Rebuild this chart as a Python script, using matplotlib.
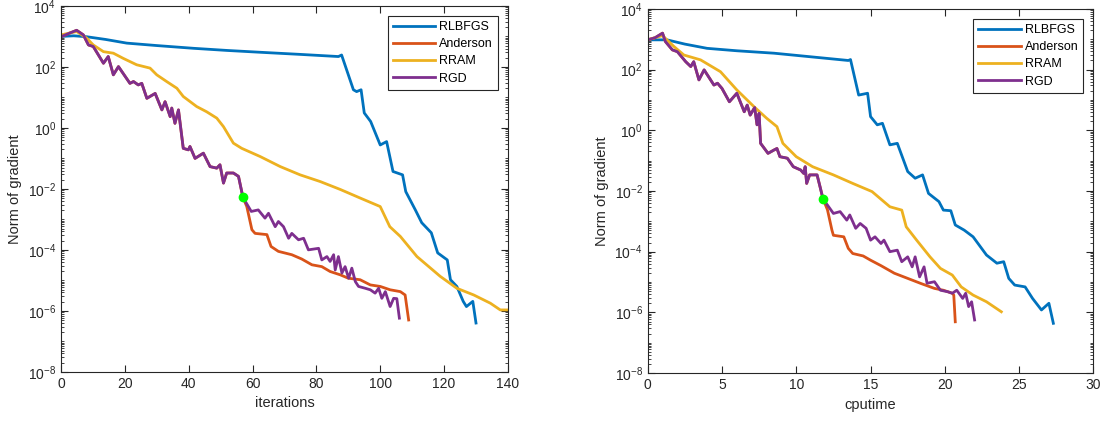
import numpy as np
import matplotlib.pyplot as plt
from matplotlib.ticker import LogLocator, NullFormatter

plt.rcParams['font.family'] = ['Liberation Sans', 'DejaVu Sans']
plt.rcParams['mathtext.default'] = 'regular'

# MATLAB default colours
c_lbfgs = (0.0, 0.447, 0.741)
c_and = (0.85, 0.325, 0.098)
c_rram = (0.929, 0.694, 0.125)
c_rgd = (0.494, 0.184, 0.556)
axc = '#262626'

# ---------- left panel: vs iterations (values are log10 of the gradient norm) ----------
it_lbfgs = [0, 4, 8, 14, 20.6, 30, 41.5, 52, 62.4, 75, 86.9, 87.9, 91.6, 92.6, 94, 95, 97, 100, 102,
            104, 107, 108, 111, 113, 116, 118, 121, 122, 124, 126, 127, 129, 130]
lg_lbfgs = [3.0, 3.02, 2.99, 2.9, 2.78, 2.7, 2.61, 2.54, 2.48, 2.41, 2.34, 2.39, 1.25, 1.19, 1.25,
            0.49, 0.21, -0.56, -0.45, -1.43, -1.54, -2.09, -2.69, -3.11, -3.44, -4.1, -4.33,
            -4.98, -5.2, -5.69, -5.86, -5.69, -6.4]

it_rram = [0, 4.9, 8.1, 10.1, 13.3, 16.4, 19.5, 23.7, 27.9, 30, 33.1, 36.3, 38.3, 42.5, 45.6, 48.8,
           50.9, 54, 56.6, 62.4, 68.7, 74.9, 81.2, 87.5, 93.7, 100, 103, 106.3, 111.5, 118.8, 124,
           129.3, 134.5, 137.6, 140]
lg_rram = [3.05, 3.16, 2.94, 2.72, 2.5, 2.45, 2.28, 2.07, 1.96, 1.74, 1.52, 1.3, 1.03, 0.70, 0.53,
           0.32, 0.04, -0.5, -0.67, -0.94, -1.27, -1.54, -1.76, -2.02, -2.3, -2.58, -3.24, -3.56,
           -4.22, -4.87, -5.26, -5.48, -5.75, -5.97, -5.97]

# shared part of RGD / Anderson up to the switch point
it_head = [0, 2.5, 4.9, 7, 8.6, 10.1, 13.3, 14.8, 16.4, 18, 21.6, 22.7, 24.2, 25.3, 26.9, 29.5,
           31.6, 32.6, 34.2, 34.7, 35.7, 36.8, 38.3, 39.9, 40.4, 42, 44.6, 46.7, 48.8, 49.8, 50.9,
           51.9, 54, 55.6, 57]
lg_head = [2.99, 3.1, 3.2, 3.05, 2.72, 2.67, 2.12, 2.34, 1.74, 2.01, 1.46, 1.52, 1.41, 1.46, 0.97,
           1.13, 0.59, 0.86, 0.37, 0.65, 0.15, 0.59, -0.67, -0.72, -0.61, -1.0, -0.83, -1.27, -1.32,
           -1.21, -1.81, -1.48, -1.48, -1.59, -2.28]

it_rgd = [59.6, 61.8, 63.9, 65, 67.1, 68.1, 69.7, 71.3, 72.3, 74.4, 76, 77.5, 80.7, 81.7, 83.3, 84.3,
          85.4, 85.9, 86.9, 88, 89, 90.1, 91.1, 92.2, 93.2, 95.3, 96.9, 98.4, 99.5, 100.5, 101.6,
          103.1, 104.2, 105.2, 106]
lg_rgd = [-2.74, -2.69, -2.96, -2.8, -3.24, -3.07, -3.24, -3.62, -3.46, -3.67, -3.62, -4.0, -3.95,
          -4.33, -4.22, -4.38, -4.16, -4.66, -4.22, -4.76, -4.55, -4.93, -4.6, -5.04, -5.2, -5.26,
          -5.31, -5.42, -5.26, -5.59, -5.37, -5.86, -5.59, -5.6, -6.24]

it_and = [58.2, 59.8, 60.8, 64.5, 65.8, 68.1, 72.3, 75.4, 78.6, 81.7, 84.3, 87.5, 90, 93.7, 96.9,
          100, 103.1, 106.3, 107.8, 108.9]
lg_and = [-2.58, -3.34, -3.46, -3.5, -3.89, -4.05, -4.16, -4.3, -4.49, -4.55, -4.71, -4.82, -4.93,
          -4.98, -5.15, -5.2, -5.31, -5.37, -5.48, -6.3]

# ---------- right panel: vs cputime ----------
t_lbfgs = [0, 1.3, 2.5, 4.0, 6.0, 8.5, 11.0, 13.5, 13.65, 14.2, 14.8, 15.0, 15.45, 15.8, 16.3, 16.8,
           17.5, 18.0, 18.5, 18.9, 19.6, 19.9, 20.4, 20.7, 21.3, 21.9, 22.8, 23.5, 23.96, 24.3, 24.7,
           25.4, 25.9, 26.5, 27.0, 27.3]
lt_lbfgs = [2.98, 2.98, 2.84, 2.70, 2.62, 2.54, 2.42, 2.3, 2.33, 1.16, 1.22, 0.45, 0.18, 0.23, -0.48,
            -0.43, -1.36, -1.58, -1.47, -2.08, -2.35, -2.63, -2.65, -3.12, -3.29, -3.51, -4.11,
            -4.38, -4.33, -4.88, -5.1, -5.16, -5.54, -5.92, -5.70, -6.36]

t_rram = [0, 1.0, 1.77, 2.44, 3.56, 4.9, 6.0, 7.15, 8.0, 8.7, 9.1, 10.0, 11.1, 12.5, 13.8, 15.1,
          16.3, 17.1, 17.4, 18.1, 19.0, 19.7, 20.5, 21.1, 21.9, 22.8, 23.8]
lt_rram = [2.98, 3.12, 2.76, 2.48, 2.32, 1.93, 1.33, 0.78, 0.40, 0.12, -0.43, -0.87, -1.2, -1.47,
           -1.75, -2.02, -2.52, -2.63, -3.18, -3.62, -4.17, -4.55, -4.77, -5.16, -5.43, -5.65, -5.98]

t_head = [0, 0.5, 1.0, 1.2, 1.66, 2.0, 2.56, 2.9, 3.1, 3.45, 3.8, 4.46, 4.7, 5.0, 5.5, 6.0, 6.5,
          6.7, 6.9, 7.2, 7.36, 7.5, 7.6, 8.1, 8.5, 8.7, 8.9, 9.4, 9.8, 10.3, 10.5, 10.6, 10.7, 10.9,
          11.4, 11.6, 11.8]
lt_head = [2.98, 3.05, 3.2, 2.92, 2.65, 2.59, 2.26, 2.1, 2.26, 1.66, 1.99, 1.49, 1.55, 1.38, 0.94,
           1.22, 0.61, 0.83, 0.5, 0.75, 0.18, 0.56, -0.43, -0.76, -0.65, -0.6, -0.87, -0.92, -1.2,
           -1.31, -1.42, -1.2, -1.75, -1.47, -1.47, -1.86, -2.26]

t_rgd = [12.5, 12.95, 13.4, 13.6, 14.0, 14.3, 14.7, 15.0, 15.3, 15.7, 15.9, 16.3, 16.8, 17.1, 17.5,
         17.8, 18.0, 18.3, 18.6, 18.8, 19.3, 19.7, 20.2, 20.5, 20.8, 21.2, 21.4, 21.6, 21.8, 22.0]
lt_rgd = [-2.74, -2.68, -2.96, -2.79, -3.23, -3.07, -3.23, -3.62, -3.51, -3.73, -3.62, -4.0, -3.95,
          -4.33, -4.17, -4.5, -4.17, -4.83, -4.5, -5.04, -4.99, -5.27, -5.32, -5.37, -5.27, -5.54,
          -5.37, -5.81, -5.65, -6.25]

t_and = [12.1, 12.4, 12.5, 13.2, 13.5, 13.8, 14.5, 15.0, 15.7, 16.6, 17.5, 18.4, 19.3, 19.9, 20.5,
         20.6, 20.7]
lt_and = [-2.62, -3.29, -3.46, -3.51, -3.89, -4.06, -4.14, -4.28, -4.46, -4.71, -4.88, -5.05, -5.21,
          -5.27, -5.37, -5.43, -6.31]

fig = plt.figure(figsize=(11.09, 4.23), dpi=100)
ax1 = fig.add_axes([0.055, 0.121, 0.403, 0.865])
ax2 = fig.add_axes([0.584, 0.118, 0.402, 0.861])


def draw(ax, xl, x_lb, y_lb, x_rr, y_rr, x_hd, y_hd, x_gd, y_gd, x_an, y_an, xmax, xtk):
    p = lambda v: 10.0 ** np.asarray(v)
    ax.plot(x_lb, p(y_lb), color=c_lbfgs, lw=2, label='RLBFGS')
    ax.plot(x_hd + x_an, p(y_hd + y_an), color=c_and, lw=2, label='Anderson')
    ax.plot(x_rr, p(y_rr), color=c_rram, lw=2, label='RRAM')
    ax.plot(x_hd + x_gd, p(y_hd + y_gd), color=c_rgd, lw=2, label='RGD')
    ax.plot(x_hd[-1], p(y_hd[-1]), 'o', color=(0, 1, 0), ms=6, zorder=5)

    ax.set_yscale('log')
    ax.set_xlim(0, xmax)
    ax.set_ylim(1e-8, 1e4)
    ax.set_xticks(xtk)
    ax.set_yticks([10.0 ** k for k in range(-8, 5, 2)])
    ax.yaxis.set_minor_locator(LogLocator(base=10, subs=np.arange(1, 10), numticks=100))
    ax.yaxis.set_minor_formatter(NullFormatter())
    ax.tick_params(which='both', direction='in', top=True, right=True, colors=axc, labelsize=10)
    ax.tick_params(which='major', length=5, width=0.8)
    ax.tick_params(which='minor', length=2.5, width=0.6)
    for s in ax.spines.values():
        s.set_color(axc)
        s.set_linewidth(0.8)
    ax.set_xlabel(xl, fontsize=10.5, color=axc)
    ax.set_ylabel('Norm of gradient', fontsize=10.5, color=axc)
    leg = ax.legend(loc='upper right', fontsize=9, handlelength=3.4, handletextpad=0.3,
                    borderaxespad=0.8, fancybox=False, framealpha=1, borderpad=0.4,
                    labelspacing=0.42)
    leg.get_frame().set_edgecolor(axc)
    leg.get_frame().set_linewidth(0.8)


draw(ax1, 'iterations', it_lbfgs, lg_lbfgs, it_rram, lg_rram, it_head, lg_head,
     it_rgd, lg_rgd, it_and, lg_and, 140, range(0, 141, 20))
draw(ax2, 'cputime', t_lbfgs, lt_lbfgs, t_rram, lt_rram, t_head, lt_head,
     t_rgd, lt_rgd, t_and, lt_and, 30, range(0, 31, 5))

fig.savefig('out.png', dpi=100)
